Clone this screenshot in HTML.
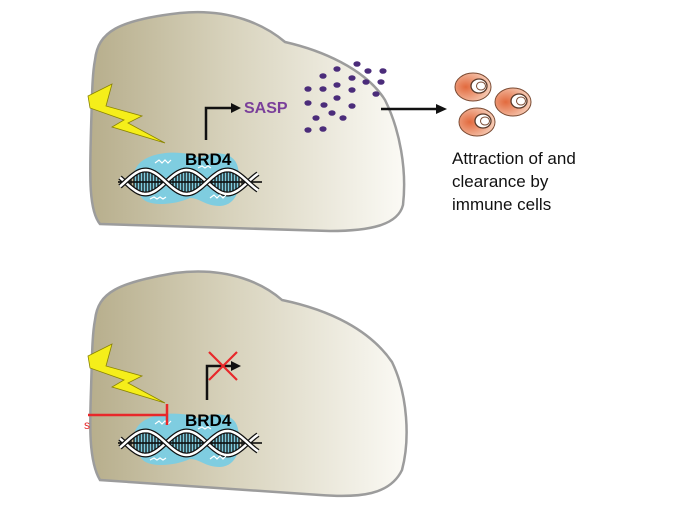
<!DOCTYPE html>
<html><head><meta charset="utf-8"><style>
body{margin:0;background:#fff;}
svg{display:block;font-family:"Liberation Sans",sans-serif;}
</style></head><body>
<svg id="s" width="700" height="516" viewBox="0 0 700 516" xmlns="http://www.w3.org/2000/svg">
<defs>
<linearGradient id="g" x1="0" x2="1" y1="0" y2="0">
<stop offset="0" stop-color="#b7ae8c"/><stop offset="0.45" stop-color="#d8d3bd"/><stop offset="1" stop-color="#fbfaf5"/>
</linearGradient>
<radialGradient id="o" cx="0.3" cy="0.5" r="0.75">
<stop offset="0" stop-color="#e26a3e"/><stop offset="1" stop-color="#f9d6c2"/>
</radialGradient>
<g id="dna">
<path d="M138,165 C150,150 185,150 200,158 C215,150 235,152 238,168 C242,185 238,205 220,206 C205,206 200,198 190,198 C175,205 145,208 140,195 C132,185 132,172 138,165Z" fill="#7fcde0"/>
<line x1="118" y1="182" x2="262" y2="182" stroke="#000" stroke-width="1.5"/>
<g class="hx"></g>
<path d="M155,163 l4,-3 l3,3 l3,-3 l3,3 l3,-3" stroke="#fff" fill="none" stroke-width="1.2"/>
<path d="M150,199 l4,-2 l3,2 l3,-2 l3,2 l3,-2" stroke="#fff" fill="none" stroke-width="1.2"/>
<path d="M210,198 l4,-3 l3,3 l3,-3 l3,3 l3,-3" stroke="#fff" fill="none" stroke-width="1.2"/>
<path d="M198,168 l4,-2 l3,2 l3,-2 l3,2" stroke="#fff" fill="none" stroke-width="1.2"/>
</g>
</defs>

<path d="M95,60 C98,32 118,20 180,13 C230,8 265,25 285,42 C320,50 365,68 385,100 C400,130 407,170 403,205 C398,225 370,231 330,231 C260,229 170,226 100,224 C88,210 90,170 91,130 C92,100 92,75 95,60Z" fill="url(#g)" stroke="#9c9c9c" stroke-width="2.5"/>
<path d="M95,320 C98,292 118,283 175,273 C230,266 265,285 282,300 C330,310 370,330 392,362 C408,395 410,440 402,470 C390,495 360,498 320,495 C250,490 170,485 100,480 C88,460 90,420 91,390 C92,360 92,335 95,320Z" fill="url(#g)" stroke="#9c9c9c" stroke-width="2.5"/>

<polygon points="88,96 112,84 106,106 142,116 128,123 165,143 112,127 124,120 90,108" fill="#f5ee1a" stroke="#8a8400" stroke-width="0.8"/>
<polygon points="88,356 112,344 106,366 142,376 128,383 165,403 112,387 124,380 90,368" fill="#f5ee1a" stroke="#8a8400" stroke-width="0.8"/>

<use href="#dna"/>
<use href="#dna" transform="translate(0,261)"/>

<text x="185" y="165" font-size="17" font-weight="bold">BRD4</text>
<text x="185" y="426" font-size="17" font-weight="bold">BRD4</text>

<path d="M206,140 V108 H233" stroke="#111" stroke-width="2.5" fill="none"/>
<polygon points="231,103 241,108 231,113" fill="#111"/>
<text x="244" y="113" font-size="16" font-weight="bold" fill="#7a3f9a">SASP</text>

<path d="M207,400 V366 H233" stroke="#111" stroke-width="2.5" fill="none"/>
<polygon points="231,361 241,366 231,371" fill="#111"/>
<path d="M209,352 L237,380 M237,352 L209,380" stroke="#e8282a" stroke-width="2.2"/>

<path d="M88,415 H167 M167,404 V425" stroke="#e8282a" stroke-width="2.5"/>
<text x="84" y="429" font-size="12" fill="#e8282a">s</text>

<g fill="#4b2c7a" id="dots"></g>

<line x1="381" y1="109" x2="438" y2="109" stroke="#111" stroke-width="2.5"/>
<polygon points="436,104 447,109 436,114" fill="#111"/>

<g stroke="#7a4a32" stroke-width="1">
<ellipse cx="473" cy="87" rx="18" ry="14" fill="url(#o)"/>
<ellipse cx="479" cy="86" rx="8" ry="7" fill="#fff" stroke="#5a3a2a" stroke-width="1.3"/><ellipse cx="481" cy="86" rx="4.5" ry="4" fill="#fff"/>
<ellipse cx="513" cy="102" rx="18" ry="14" fill="url(#o)"/>
<ellipse cx="519" cy="101" rx="8" ry="7" fill="#fff" stroke="#5a3a2a" stroke-width="1.3"/><ellipse cx="521" cy="101" rx="4.5" ry="4" fill="#fff"/>
<ellipse cx="477" cy="122" rx="18" ry="14" fill="url(#o)"/>
<ellipse cx="483" cy="121" rx="8" ry="7" fill="#fff" stroke="#5a3a2a" stroke-width="1.3"/><ellipse cx="485" cy="121" rx="4.5" ry="4" fill="#fff"/>
</g>
<text font-size="17" fill="#111"><tspan x="452" y="164">Attraction of and</tspan><tspan x="452" y="187">clearance by</tspan><tspan x="452" y="210">immune cells</tspan></text>
</svg>
<script>
var ns="http://www.w3.org/2000/svg";
var d=[[337,69],[357,64],[368,71],[383,71],[323,76],[352,78],[366,82],[381,82],[308,89],[323,89],[337,85],[352,90],[376,94],[308,103],[324,105],[337,98],[352,106],[316,118],[332,113],[343,118],[308,130],[323,129]];
var g=document.getElementById('dots');
d.forEach(function(p){var e=document.createElementNS(ns,'ellipse');e.setAttribute('cx',p[0]);e.setAttribute('cy',p[1]);e.setAttribute('rx',3.6);e.setAttribute('ry',2.8);g.appendChild(e);});
var h=document.querySelector('#dna .hx');
function y(x,s){return 182+s*12*Math.sin(2*Math.PI*(x-125)/82);}
var top="",bot="";
for(var x=120;x<=258;x+=2){top+=(x==120?"M":"L")+x+","+y(x,1).toFixed(1);}
for(var x=258;x>=120;x-=2){bot+="L"+x+","+y(x,-1).toFixed(1);}
var w=document.createElementNS(ns,'path');w.setAttribute('d',top+bot+"Z");w.setAttribute('fill','#fff');h.appendChild(w);
var s="";
for(var x=128;x<=252;x+=3){var a=y(x,1),b=y(x,-1);s+="M"+x.toFixed(1)+","+Math.min(a,b).toFixed(1)+"V"+Math.max(a,b).toFixed(1);}
var r=document.createElementNS(ns,'path');r.setAttribute('d',s);r.setAttribute('stroke','#111');r.setAttribute('stroke-width','1.3');h.appendChild(r);
[1,-1].forEach(function(sg){var p="";for(var x=120;x<=258;x+=2){p+=(x==120?"M":"L")+x+","+y(x,sg).toFixed(1);}
var e=document.createElementNS(ns,'path');e.setAttribute('d',p);e.setAttribute('fill','none');e.setAttribute('stroke','#111');e.setAttribute('stroke-width','5');h.appendChild(e);
var f=document.createElementNS(ns,'path');f.setAttribute('d',p);f.setAttribute('fill','none');f.setAttribute('stroke','#fff');f.setAttribute('stroke-width','2.5');h.appendChild(f);});
</script>
</body></html>
